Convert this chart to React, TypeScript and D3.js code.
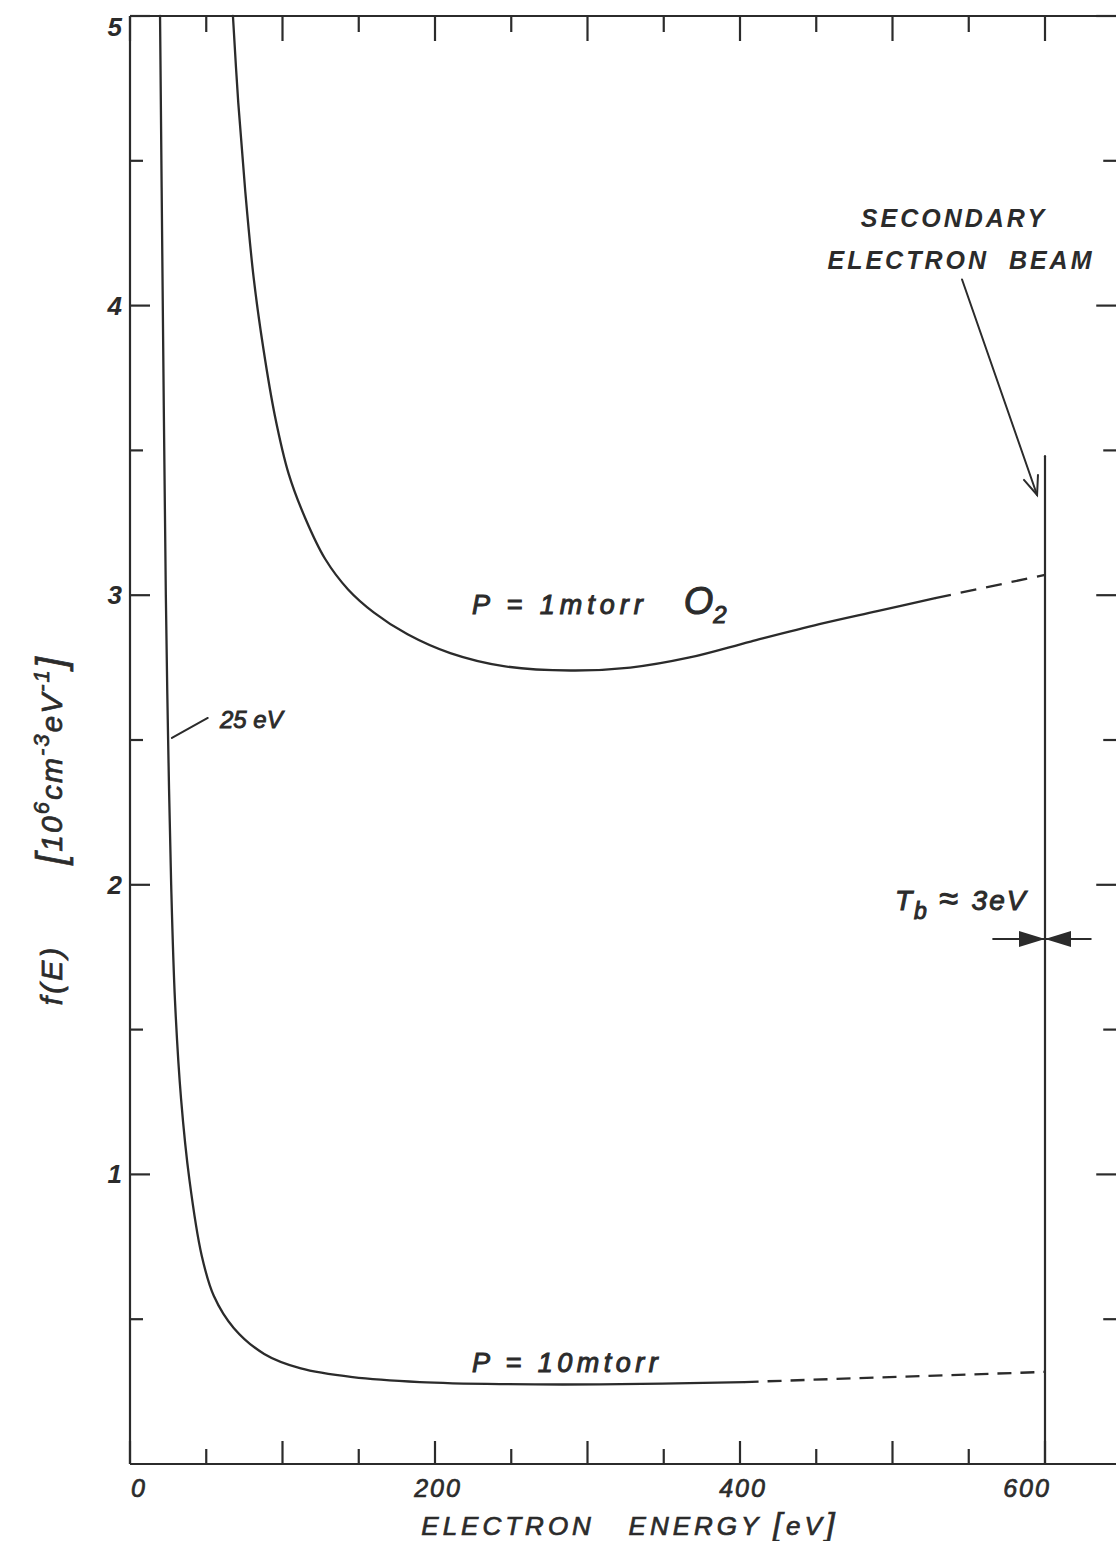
import React from "react";
import * as d3 from "d3";

// Electron energy distribution f(E) in an O2 discharge
const upperEnergy = [67.5, 71, 75.5, 81, 87.5, 95, 104, 115, 128, 143, 160, 182, 210, 245, 289, 328, 367, 407, 452, 490, 528];
const upperValue = [5.0, 4.7, 4.4, 4.1, 3.85, 3.62, 3.42, 3.265, 3.125, 3.02, 2.94, 2.865, 2.8, 2.755, 2.74, 2.75, 2.785, 2.84, 2.9, 2.945, 2.99];
const upperDashEnergy = [528, 600];
const upperDashValue = [2.99, 3.07];

const lowerEnergy = [19.7, 21.5, 23.5, 25, 27, 29.5, 33.5, 39, 47, 55, 68, 88, 112, 146, 190, 243, 308, 403];
const lowerValue = [5.0, 4.0, 3.0, 2.5, 2.0, 1.6, 1.26, 0.98, 0.72, 0.58, 0.47, 0.38, 0.33, 0.3, 0.283, 0.276, 0.275, 0.283];
const lowerDashEnergy = [403, 600];
const lowerDashValue = [0.283, 0.318];

const beamEnergy = 600;
const beamTop = 3.48;

const xMajorTicks = [0, 100, 200, 300, 400, 500, 600];
const xMinorTicks = [50, 150, 250, 350, 450, 550];
const xTickLabels = [0, 200, 400, 600];
const yMajorTicks = [1, 2, 3, 4, 5];
const yMinorTicks = [0.5, 1.5, 2.5, 3.5, 4.5];
const yTickLabels = [1, 2, 3, 4, 5];

const W = 1116;
const H = 1541;
const INK = "#2b2b2b";
const FONT = "'Liberation Sans', 'DejaVu Sans', sans-serif";

export default function App() {
  const x = d3.scaleLinear().domain([0, 650]).range([130, 1121.25]);
  const y = d3.scaleLinear().domain([0, 5]).range([1464, 16]);
  const x0 = x(0);
  const x1 = x(650);
  const y0 = y(0);
  const y1 = y(5);

  const line = d3
    .line<[number, number]>()
    .x((d) => x(d[0]))
    .y((d) => y(d[1]))
    .curve(d3.curveCatmullRom.alpha(0.5));
  const straight = d3
    .line<[number, number]>()
    .x((d) => x(d[0]))
    .y((d) => y(d[1]));

  const zip = (a: number[], b: number[]) => a.map((v, i) => [v, b[i]] as [number, number]);

  const tb = 1.813;
  const arrowStart: [number, number] = [545.6, 4.09];
  const arrowTip: [number, number] = [594.8, 3.346];
  const ax = x(arrowTip[0]);
  const ay = y(arrowTip[1]);
  const ang = Math.atan2(ay - y(arrowStart[1]), ax - x(arrowStart[0]));
  const headLen = 20;
  const headSpread = 0.38;
  const head = [ang + Math.PI - headSpread, ang + Math.PI + headSpread].map(
    (a) => [ax + headLen * Math.cos(a), ay + headLen * Math.sin(a)] as [number, number]
  );

  const bx = x(beamEnergy);
  const tbY = y(tb);

  const lettering = { stroke: INK, strokeWidth: 0.7, paintOrder: "stroke" as const };

  return (
    <div style={{ position: "absolute", left: 0, top: 0, width: W, height: H, background: "#fff" }}>
      <svg width={W} height={H} viewBox={`0 0 ${W} ${H}`} style={{ display: "block" }}>
        <rect x={0} y={0} width={W} height={H} fill="#fff" />
        {/* frame */}
        <g stroke={INK} strokeWidth={2.2} fill="none">
          <line x1={x0} y1={y1} x2={x0} y2={y0} />
          <line x1={x0} y1={y0} x2={x1} y2={y0} />
          <line x1={x0} y1={y1} x2={x1} y2={y1} />
          <line x1={x1} y1={y1} x2={x1} y2={y0} />
        </g>
        {/* ticks */}
        <g stroke={INK} strokeWidth={2.2}>
          {xMajorTicks.map((t) => (
            <g key={"xm" + t}>
              <line x1={x(t)} x2={x(t)} y1={y0} y2={y0 - 23} />
              <line x1={x(t)} x2={x(t)} y1={y1} y2={y1 + 25} />
            </g>
          ))}
          {xMinorTicks.map((t) => (
            <g key={"xn" + t}>
              <line x1={x(t)} x2={x(t)} y1={y0} y2={y0 - 15} />
              <line x1={x(t)} x2={x(t)} y1={y1} y2={y1 + 16} />
            </g>
          ))}
          {yMajorTicks.map((t) => (
            <g key={"ym" + t}>
              <line x1={x0} x2={x0 + 20} y1={y(t)} y2={y(t)} />
              <line x1={x1} x2={x1 - 25} y1={y(t)} y2={y(t)} />
            </g>
          ))}
          {yMinorTicks.map((t) => (
            <g key={"yn" + t}>
              <line x1={x0} x2={x0 + 13} y1={y(t)} y2={y(t)} />
              <line x1={x1} x2={x1 - 18} y1={y(t)} y2={y(t)} />
            </g>
          ))}
        </g>
        {/* tick labels */}
        <g fill={INK} fontFamily={FONT} fontStyle="italic" fontWeight="bold" fontSize={26}>
          {yTickLabels.map((t) => (
            <text key={"yl" + t} x={x0 - 8} y={Math.max(y(t), 27)} textAnchor="end" dominantBaseline="central">
              {t}
            </text>
          ))}
        </g>
        <g fill={INK} fontFamily={FONT} fontStyle="italic" fontSize={25} letterSpacing={2} {...lettering}>
          {xTickLabels.map((t) => (
            <text
              key={"xl" + t}
              x={t === 0 ? x(t) + 9 : t === 600 ? x(t) - 18 : x(t) + 3}
              y={y0 + 33}
              textAnchor="middle"
            >
              {t}
            </text>
          ))}
        </g>
        {/* axis titles */}
        <text
          x={630}
          y={1535}
          textAnchor="middle"
          fill={INK}
          fontFamily={FONT}
          fontStyle="italic"
          fontSize={26}
          letterSpacing={4}
          style={{ whiteSpace: "pre" }}
          {...lettering}
        >
          <tspan>{"ELECTRON   ENERGY "}</tspan>
          <tspan fontSize={32}>[</tspan>
          <tspan>eV</tspan>
          <tspan fontSize={32}>]</tspan>
        </text>
        <g fill={INK} fontFamily={FONT} fontStyle="italic" fontSize={30} {...lettering}>
          <text transform="translate(62, 975) rotate(-90)" textAnchor="middle" letterSpacing={3}>
            f(E)
          </text>
          <text transform="translate(62, 760) rotate(-90)" textAnchor="middle" letterSpacing={2}>
            <tspan fontSize={40} dy={3}>[</tspan>
            <tspan dy={-3}>10</tspan>
            <tspan dy={-13} fontSize={22}>6</tspan>
            <tspan dy={13}>cm</tspan>
            <tspan dy={-13} fontSize={22}>-3</tspan>
            <tspan dy={13}>eV</tspan>
            <tspan dy={-13} fontSize={22}>-1</tspan>
            <tspan dy={16} fontSize={40}>]</tspan>
          </text>
        </g>
        {/* curves */}
        <g stroke={INK} strokeWidth={2.3} fill="none" strokeLinecap="round">
          <path d={line(zip(upperEnergy, upperValue)) || ""} />
          <path d={line(zip(lowerEnergy, lowerValue)) || ""} />
          <path d={straight(zip(upperDashEnergy, upperDashValue)) || ""} strokeDasharray="16 10" strokeLinecap="butt" />
          <path d={straight(zip(lowerDashEnergy, lowerDashValue)) || ""} strokeDasharray="14 9" strokeLinecap="butt" />
          {/* secondary electron beam */}
          <line x1={bx} x2={bx} y1={y(beamTop)} y2={y0} strokeWidth={2.2} />
          {/* arrow to beam */}
          <line x1={x(arrowStart[0])} y1={y(arrowStart[1])} x2={ax} y2={ay} strokeWidth={2} />
          <polyline points={`${head[0][0]},${head[0][1]} ${ax},${ay} ${head[1][0]},${head[1][1]}`} strokeWidth={2} />
          {/* 25 eV leader */}
          <line x1={x(27.5)} y1={y(2.507)} x2={x(51)} y2={y(2.576)} strokeWidth={2} />
          {/* beam width marker */}
          <line x1={x(566)} x2={x(630)} y1={tbY} y2={tbY} strokeWidth={2} />
        </g>
        <g fill={INK}>
          <path d={`M${bx - 26},${tbY - 8} L${bx},${tbY} L${bx - 26},${tbY + 8} Z`} />
          <path d={`M${bx + 26},${tbY - 8} L${bx},${tbY} L${bx + 26},${tbY + 8} Z`} />
        </g>
        {/* annotations */}
        <g fill={INK} fontFamily={FONT} fontStyle="italic">
          <text x={954} y={227} textAnchor="middle" fontSize={25} fontWeight="bold" letterSpacing={3}>
            SECONDARY
          </text>
          <text x={961} y={269} textAnchor="middle" fontSize={25} fontWeight="bold" letterSpacing={3} style={{ whiteSpace: "pre" }}>
            {"ELECTRON  BEAM"}
          </text>
          <text x={220} y={728} fontSize={24} {...lettering} strokeWidth={0.9}>
            25 eV
          </text>
          <text x={895} y={910} fontSize={28} letterSpacing={2} style={{ whiteSpace: "pre" }} {...lettering} strokeWidth={1}>
            <tspan>T</tspan>
            <tspan dy={9} fontSize={23}>b</tspan>
            <tspan dy={-9} dx={10} fontSize={34}>≈</tspan>
            <tspan dx={12}>3eV</tspan>
          </text>
          <text x={472} y={614} fontSize={27} letterSpacing={5} style={{ whiteSpace: "pre" }} {...lettering} strokeWidth={1}>
            <tspan>{"P = 1mtorr"}</tspan>
            <tspan dx={36} fontSize={38} letterSpacing={0}>O</tspan>
            <tspan dy={9} fontSize={24}>2</tspan>
          </text>
          <text x={472} y={1372} fontSize={27} letterSpacing={4.5} style={{ whiteSpace: "pre" }} {...lettering} strokeWidth={1}>
            {"P = 10mtorr"}
          </text>
        </g>
      </svg>
    </div>
  );
}
